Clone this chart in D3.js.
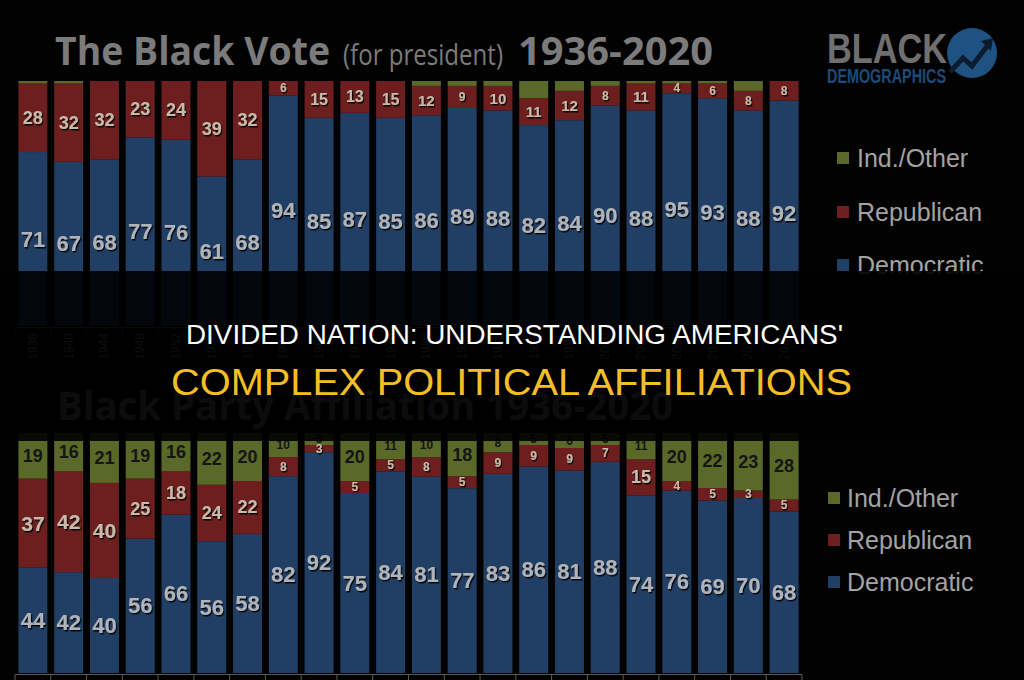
<!DOCTYPE html>
<html><head><meta charset="utf-8">
<script src="https://cdn.jsdelivr.net/npm/d3@7"></script>
<style>html,body{margin:0;background:#020202;overflow:hidden}svg{display:block}</style>
</head><body><svg id="c" width="1024" height="680"></svg>
<script>
// ---- data ----
const years = ["1936","1940","1944","1948","1952","1956","1960","1964","1968","1972","1976","1980","1984","1988","1992","1996","2000","2004","2008","2012","2016","2020"];
const voteDem   = [71,67,68,77,76,61,68,94,85,87,85,86,89,88,82,84,90,88,95,93,88,92];
const voteRep   = [28,32,32,23,24,39,32,6,15,13,15,12,9,10,11,12,8,11,4,6,8,8];
const voteOther = [1,1,0,0,0,0,0,0,0,0,0,2,2,2,7,4,2,1,1,1,4,0];
const affDem = [44,42,40,56,66,56,58,82,92,75,84,81,77,83,86,81,88,74,76,69,70,68];
const affRep = [37,42,40,25,18,24,22,8,3,5,5,8,5,9,9,9,7,15,4,5,3,5];
const affInd = [19,16,21,19,16,22,20,10,5,20,11,10,18,8,5,6,5,11,20,22,23,28];
const keys = ["Democratic","Republican","Ind./Other"];
const legendOrder = ["Ind./Other","Republican","Democratic"];
const titleTop = ["The Black Vote","(for president)","1936-2020"];
const titleBottom = "Black Party Affiliation 1936-2020";
const headline1 = "DIVIDED NATION: UNDERSTANDING AMERICANS'";
const headline2 = "COMPLEX POLITICAL AFFILIATIONS";

const colors = {"Democratic":"#213e64","Republican":"#6d1f1f","Ind./Other":"#5a6828"};
const labelColors = {"Democratic":"#b0b3b8","Republican":"#c6bba9","Ind./Other":"#151515"};

const svg = d3.select("#c");
svg.append("rect").attr("width",1024).attr("height",680).attr("fill","#020202");
const defs = svg.append("defs");
const f = defs.append("filter").attr("id","sh").attr("x","-20%").attr("y","-20%").attr("width","150%").attr("height","150%");
f.append("feDropShadow").attr("dx",1.2).attr("dy",1.5).attr("stdDeviation",0.7).attr("flood-color","#000").attr("flood-opacity",0.9);

const x = d3.scaleBand().domain(years).range([15,802]).paddingInner(0.19).paddingOuter(0.095);
const stack = d3.stack().keys(keys).offset(d3.stackOffsetExpand);

function drawChart(rows, y, showInd, sizeFn){
  const g = svg.append("g");
  const layers = stack(rows);
  layers.forEach(layer=>{
    g.selectAll(null).data(layer).join("rect")
      .attr("x",d=>x(d.data.year)).attr("width",x.bandwidth())
      .attr("y",d=>y(d[1])).attr("height",d=>Math.max(0,y(d[0])-y(d[1])))
      .attr("fill",colors[layer.key]);
  });
  layers.forEach(layer=>{
    if(layer.key==="Ind./Other" && !showInd) return;
    g.selectAll(null).data(layer.filter(d=>d.data[layer.key]>0)).join("text")
      .attr("x",d=>x(d.data.year)+x.bandwidth()/2)
      .attr("y",d=>(y(d[0])+y(d[1]))/2)
      .attr("text-anchor","middle").attr("dominant-baseline","central")
      .attr("font-family","Liberation Sans, Arial, sans-serif").attr("font-weight","bold")
      .attr("font-size",d=>sizeFn(layer.key,d.data[layer.key]))
      .attr("fill",labelColors[layer.key])
      .attr("filter",layer.key==="Ind./Other"?null:"url(#sh)")
      .text(d=>d.data[layer.key]);
  });
  const y0 = y(0)+1.5;
  g.append("line").attr("x1",15).attr("x2",802).attr("y1",y0).attr("y2",y0).attr("stroke","#5a5a5a");
  const bounds = years.map(v=>x(v)-x.step()*x.paddingInner()/2).concat([802]);
  g.selectAll(null).data(bounds).join("line")
    .attr("x1",d=>d).attr("x2",d=>d).attr("y1",y0).attr("y2",y0+6).attr("stroke","#5a5a5a");
  return g;
}
function legend(x0, ys, tx){
  legendOrder.forEach((k,i)=>{
    svg.append("rect").attr("x",x0).attr("y",ys[i]-6).attr("width",12).attr("height",12).attr("fill",colors[k]);
    svg.append("text").attr("x",tx).attr("y",ys[i]).attr("dominant-baseline","central")
      .attr("font-family","Liberation Sans, Arial, sans-serif").attr("font-size",25).attr("fill","#a3a3a3").text(k);
  });
}

const rowsTop = years.map((yr,i)=>({year:yr,"Democratic":voteDem[i],"Republican":voteRep[i],"Ind./Other":voteOther[i]}));
const rowsBot = years.map((yr,i)=>({year:yr,"Democratic":affDem[i],"Republican":affRep[i],"Ind./Other":affInd[i]}));

const yTop = d3.scaleLinear().domain([0,1]).range([326,81]);
const yBot = d3.scaleLinear().domain([0,1]).range([673,433]);

drawChart(rowsTop, yTop, false, (k,v)=> k==="Democratic"?22 : v>=20?18 : v>=13?16 : v>=10?15 : 12);
drawChart(rowsBot, yBot, true, (k,v)=> k==="Democratic"?22 : v>=35?21 : v>=14?18 : 12);

svg.append("g").selectAll("text").data(years).join("text")
  .attr("transform",d=>`translate(${x(d)+x.bandwidth()/2+4},333) rotate(-90)`)
  .attr("text-anchor","end").attr("font-family","Liberation Sans, Arial, sans-serif")
  .attr("font-size",12).attr("fill","#8a8a8a").text(d=>d);

const tf = "Open Sans, Noto Sans, sans-serif";
svg.append("text").attr("x",55).attr("y",65).attr("font-family",tf).attr("font-weight","bold").attr("font-size",40)
  .attr("fill","#7b7b7b").attr("textLength",275).attr("lengthAdjust","spacingAndGlyphs").text(titleTop[0]);
svg.append("text").attr("x",343).attr("y",65).attr("font-family",tf).attr("font-size",30)
  .attr("fill","#7b7b7b").attr("textLength",160).attr("lengthAdjust","spacingAndGlyphs").text(titleTop[1]);
svg.append("text").attr("x",518).attr("y",65).attr("font-family",tf).attr("font-weight","bold").attr("font-size",40)
  .attr("fill","#7b7b7b").attr("textLength",195).attr("lengthAdjust","spacingAndGlyphs").text(titleTop[2]);
svg.append("text").attr("x",57).attr("y",420).attr("font-family",tf).attr("font-weight","bold").attr("font-size",40)
  .attr("fill","#7b7b7b").attr("textLength",616).attr("lengthAdjust","spacingAndGlyphs").text(titleBottom);

legend(837,[158,212,265],857);
legend(828,[498,540,582],847);

const lg = svg.append("g");
lg.append("circle").attr("cx",972).attr("cy",53).attr("r",25).attr("fill","#1d5282");
lg.append("path").attr("d","M950,72 L963,58 L972,66 L988,45").attr("fill","none").attr("stroke","#0c1b2e").attr("stroke-width",5).attr("stroke-linejoin","miter");
lg.append("path").attr("d","M981,41 L993,38 L991,51 Z").attr("fill","#0c1b2e");
lg.append("text").attr("x",827).attr("y",63).attr("font-family","Liberation Sans, Arial, sans-serif").attr("font-weight","bold")
  .attr("font-size",42).attr("fill","#6f6f6f").attr("textLength",120).attr("lengthAdjust","spacingAndGlyphs").text("BLACK");
lg.append("text").attr("x",827).attr("y",83).attr("font-family","Liberation Sans, Arial, sans-serif").attr("font-weight","bold")
  .attr("font-size",21).attr("fill","#1d4a78").attr("textLength",119).attr("lengthAdjust","spacingAndGlyphs").text("DEMOGRAPHICS");

svg.append("rect").attr("x",0).attr("y",271).attr("width",1024).attr("height",170).attr("fill","#000").attr("opacity",0.9);
svg.append("text").attr("x",186).attr("y",344).attr("font-family","Liberation Sans, Arial, sans-serif")
  .attr("font-size",27).attr("fill","#ffffff").attr("textLength",657).attr("lengthAdjust","spacingAndGlyphs").text(headline1);
svg.append("text").attr("x",171).attr("y",395).attr("font-family","Liberation Sans, Arial, sans-serif")
  .attr("font-size",36).attr("fill","#f4bf26").attr("textLength",681).attr("lengthAdjust","spacingAndGlyphs").text(headline2);
</script></body></html>
